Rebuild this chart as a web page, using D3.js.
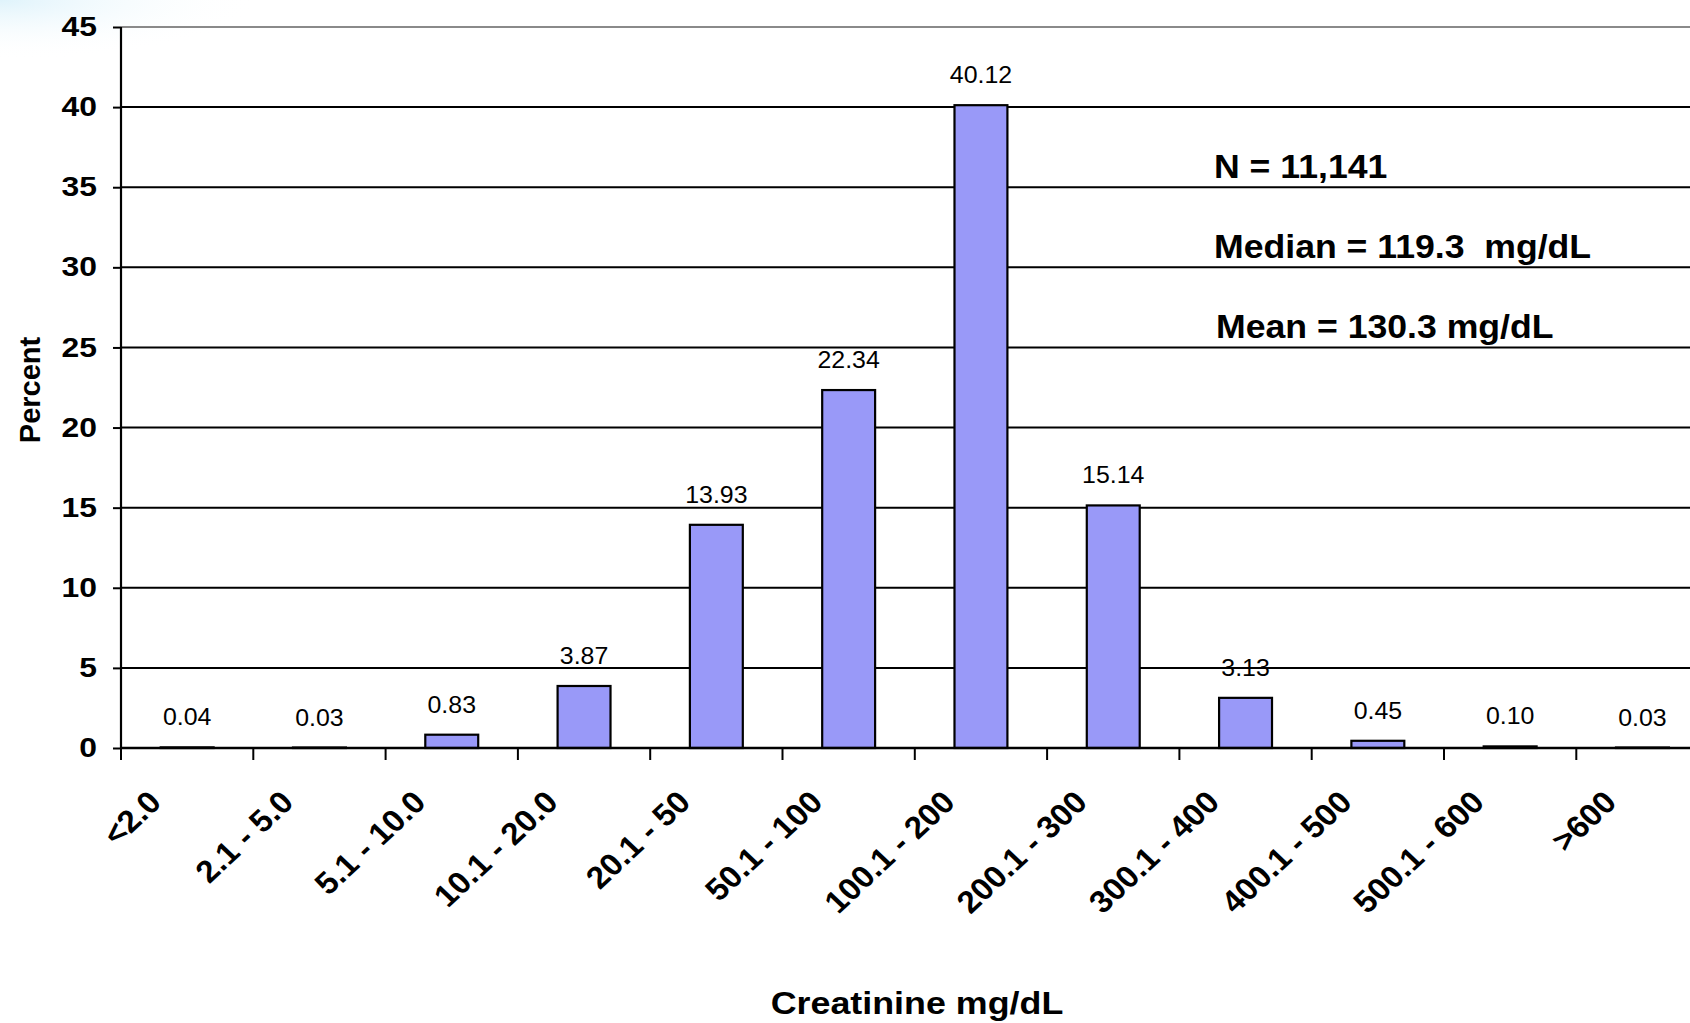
<!DOCTYPE html>
<html>
<head>
<meta charset="utf-8">
<script src="https://cdn.jsdelivr.net/npm/d3@7"></script>
<style>
  html, body { margin: 0; padding: 0; background: #ffffff; }
  svg { display: block; }
  text { font-family: Arial, "Liberation Sans", Helvetica, sans-serif; }
</style>
</head>
<body>
<svg id="chart" width="1690" height="1023"></svg>
<script>
const categories = ["<2.0", "2.1 - 5.0", "5.1 - 10.0", "10.1 - 20.0", "20.1 - 50", "50.1 - 100",
  "100.1 - 200", "200.1 - 300", "300.1 - 400", "400.1 - 500", "500.1 - 600", ">600"];
const percentValues = [0.04, 0.03, 0.83, 3.87, 13.93, 22.34, 40.12, 15.14, 3.13, 0.45, 0.10, 0.03];
const valueLabels = ["0.04", "0.03", "0.83", "3.87", "13.93", "22.34", "40.12", "15.14", "3.13", "0.45", "0.10", "0.03"];
const yTicks = [0, 5, 10, 15, 20, 25, 30, 35, 40, 45];
const annotations = ["N = 11,141", "Median = 119.3  mg/dL", "Mean = 130.3 mg/dL"];
const annotationLevels = [35, 30, 25];
const xTitle = "Creatinine mg/dL";
const yTitle = "Percent";

(function () {
const svg = d3.select("#chart");
const W = 1690, H = 1023;
const plotLeft = 121, plotTop = 27, plotBottom = 748;
const step = 132.3;
const stretch = 1.12;

// faint background tint in the top-left corner
const defs = svg.append("defs");
const rg = defs.append("radialGradient").attr("id", "tint").attr("cx", "0").attr("cy", "0").attr("r", "1");
rg.append("stop").attr("offset", "0%").attr("stop-color", "#dff3fb");
rg.append("stop").attr("offset", "100%").attr("stop-color", "#ffffff").attr("stop-opacity", 0);
svg.append("rect").attr("x", 0).attr("y", 0).attr("width", 260).attr("height", 60).attr("fill", "url(#tint)");

const x = d3.scaleBand().domain(categories).range([plotLeft, plotLeft + step * categories.length]).padding(0);
const y = d3.scaleLinear().domain([0, 45]).range([plotBottom, plotTop]);

// gridlines
svg.append("g").selectAll("line").data(yTicks.filter(d => d > 0)).join("line")
  .attr("x1", plotLeft).attr("x2", W)
  .attr("y1", d => y(d)).attr("y2", d => y(d))
  .attr("stroke", d => d === 45 ? "#8a8a8a" : "#000")
  .attr("stroke-width", 2);

// y axis
const yAxis = d3.axisLeft(y).tickValues(yTicks).tickSize(8).tickPadding(16).tickFormat(d3.format("d"));
const gy = svg.append("g").attr("transform", `translate(${plotLeft},0)`).call(yAxis);
gy.select(".domain").attr("stroke", "#000").attr("stroke-width", 2.2).attr("d", `M0,${plotTop}V${plotBottom}`);
gy.selectAll(".tick line").attr("stroke", "#000").attr("stroke-width", 2);
gy.selectAll(".tick text").attr("font-size", 27).attr("font-weight", "bold").attr("fill", "#000")
  .attr("font-family", "Arial, 'Liberation Sans', sans-serif")
  .attr("x", 0).attr("transform", "translate(-24,0) scale(1.18,1)");

// bars
const barW = x.bandwidth() * 0.4;
svg.append("g").selectAll("rect").data(percentValues).join("rect")
  .attr("x", (d, i) => x(categories[i]) + x.bandwidth() / 2 - barW / 2)
  .attr("y", d => y(d))
  .attr("width", barW)
  .attr("height", d => plotBottom - y(d))
  .attr("fill", "#9999f8")
  .attr("stroke", "#000")
  .attr("stroke-width", 2.2);

// x axis
const xAxis = d3.axisBottom(x).tickSize(12).tickFormat("");
const gx = svg.append("g").attr("transform", `translate(0,${plotBottom})`).call(xAxis);
gx.select(".domain").attr("stroke", "#000").attr("stroke-width", 2.4).attr("d", `M${plotLeft},0H${W}`);
gx.selectAll(".tick").attr("transform", d => `translate(${x(d)},0)`);
gx.selectAll(".tick line").attr("stroke", "#000").attr("stroke-width", 2);

// rotated category labels
svg.append("g").selectAll("text").data(categories).join("text")
  .attr("transform", d => `translate(${x(d) + 42},804) scale(1.07,1) rotate(-45)`)
  .attr("text-anchor", "end")
  .attr("font-size", 31).attr("font-weight", "bold").attr("fill", "#000")
  .text(d => d);

// value labels
svg.append("g").selectAll("text").data(percentValues).join("text")
  .attr("transform", (d, i) => `translate(${x(categories[i]) + x.bandwidth() / 2},${y(d) - 22}) scale(1.06,1)`)
  .attr("text-anchor", "middle")
  .attr("font-size", 23.5).attr("fill", "#000")
  .text((d, i) => valueLabels[i]);

// annotations
svg.append("g").selectAll("text").data(annotations).join("text")
  .attr("transform", (d, i) => `translate(${i === 2 ? 1216 : 1214},${y(annotationLevels[i]) - 9}) scale(1.08,1)`)
  .attr("font-size", 33).attr("font-weight", "bold").attr("fill", "#000")
  .style("white-space", "pre")
  .text(d => d);

// axis titles
svg.append("text").attr("transform", `translate(917,1014) scale(${stretch},1)`).attr("text-anchor", "middle")
  .attr("font-size", 32).attr("font-weight", "bold").attr("fill", "#000").text(xTitle);
svg.append("text").attr("transform", "translate(40,390) rotate(-90)").attr("text-anchor", "middle")
  .attr("font-size", 29).attr("font-weight", "bold").attr("fill", "#000").text(yTitle);
})();
</script>
</body>
</html>
